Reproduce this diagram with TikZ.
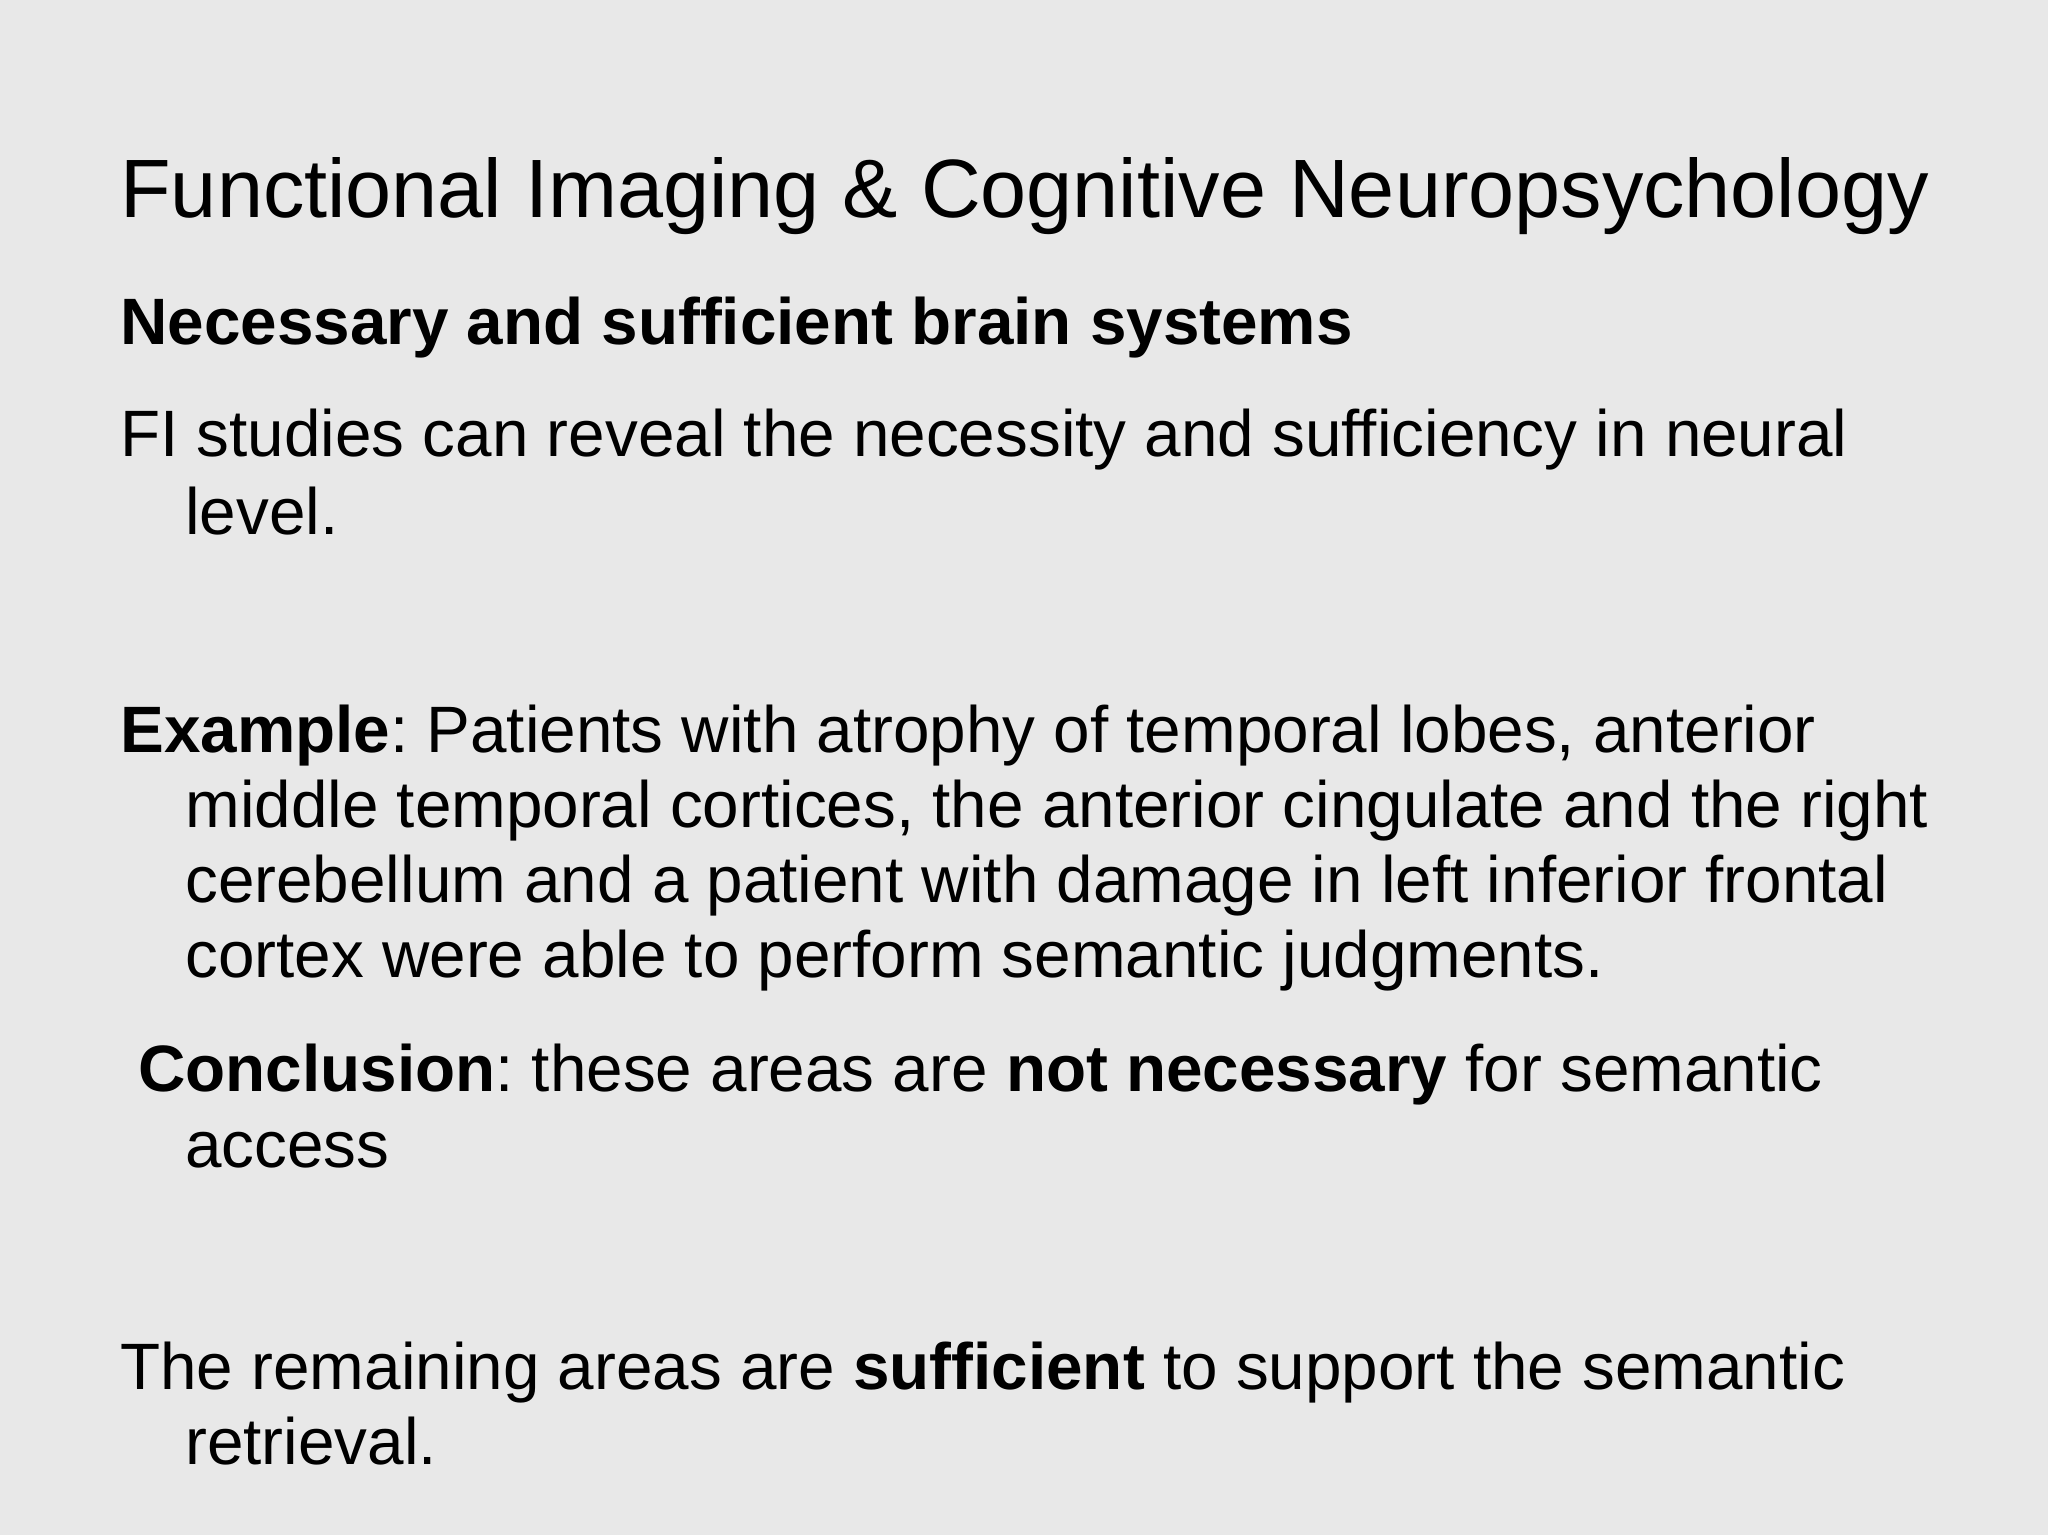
\documentclass[tikz,border=0pt]{standalone}
\usepackage{fontspec}
\setmainfont{Liberation Sans}
\frenchspacing
\begin{document}
\begin{tikzpicture}[x=0.5pt,y=-0.5pt,
  ln/.style={anchor=base west,inner sep=0pt,font=\fontsize{32.8pt}{38pt}\selectfont},
  ttl/.style={anchor=base west,inner sep=0pt,font=\fontsize{41.4pt}{48pt}\selectfont}]
\fill[gray!18] (0,0) rectangle (2048,1535);
\useasboundingbox (0,0) rectangle (2048,1535);
\node[ttl] (t) at (120,218) {Functional Imaging \& Cognitive Neuropsychology};
\node[ln] (h) at (120,344) {\bfseries Necessary and sufficient brain systems};
\node[ln] (a1) at (120,456) {FI studies can reveal the necessity and sufficiency in neural};
\node[ln] (a2) at (185,534) {level.};
\node[ln] (b1) at (120,752) {\textbf{Example}: Patients with atrophy of temporal lobes, anterior};
\node[ln] (b2) at (185,827) {middle temporal cortices, the anterior cingulate and the right};
\node[ln] (b3) at (185,902) {cerebellum and a patient with damage in left inferior frontal};
\node[ln] (b4) at (185,977) {cortex were able to perform semantic judgments.};
\node[ln] (c1) at (138,1091) {\textbf{Conclusion}: these areas are \textbf{not necessary} for semantic};
\node[ln] (c2) at (185,1167) {access};
\node[ln] (d1) at (120,1389) {The remaining areas are \textbf{sufficient} to support the semantic};
\node[ln] (d2) at (185,1464) {retrieval.};
\end{tikzpicture}
\end{document}
